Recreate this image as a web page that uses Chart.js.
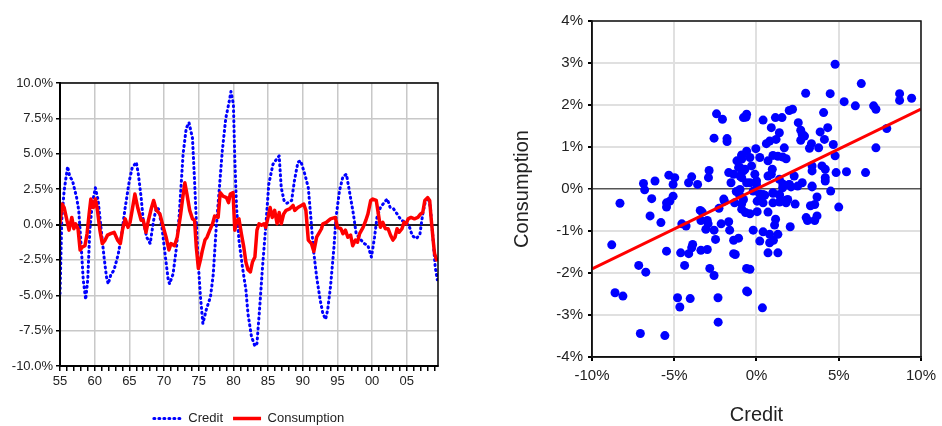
<!DOCTYPE html>
<html>
<head>
<meta charset="utf-8">
<script src="https://cdn.jsdelivr.net/npm/chart.js@4/dist/chart.umd.min.js"></script>
<style>
  html, body { margin: 0; padding: 0; background: #fff; overflow: hidden; width: 942px; height: 426px; }
  #left { position: absolute; left: 0; top: 0; width: 470px; height: 435px; }
  #right { position: absolute; left: 470px; top: 0; width: 472px; height: 426px; }
</style>
</head>
<body>
<div id="left"><canvas id="c1" width="470" height="435"></canvas></div>
<div id="right"><canvas id="c2" width="472" height="426"></canvas></div>
<script>
// ---- Left panel: time series (% deviation) ----
const creditYears = [1955.0,1955.25,1955.6,1956.1,1956.4,1956.8,1957.4,1957.7,1958.0,1958.35,1958.7,1959.0,1959.3,1959.65,1960.1,1960.5,1960.9,1961.35,1961.7,1961.95,1962.3,1962.8,1963.4,1963.9,1964.4,1965.0,1965.4,1966.0,1966.3,1966.7,1967.0,1967.5,1968.0,1968.5,1968.9,1969.2,1969.7,1970.2,1970.6,1970.8,1971.3,1971.8,1972.2,1972.75,1973.2,1973.6,1974.1,1974.4,1974.65,1974.9,1975.25,1975.6,1976.1,1976.7,1977.1,1977.5,1977.95,1978.4,1978.9,1979.4,1979.65,1980.0,1980.2,1980.45,1980.8,1981.3,1981.8,1982.1,1982.6,1983.1,1983.4,1983.8,1984.2,1984.7,1985.1,1985.7,1986.2,1986.6,1986.9,1987.3,1987.7,1988.4,1988.8,1989.3,1989.7,1990.3,1990.8,1991.2,1991.5,1992.0,1992.5,1992.9,1993.3,1993.6,1994.0,1994.5,1994.8,1995.3,1995.8,1996.3,1996.8,1997.3,1997.7,1998.4,1998.9,1999.4,1999.9,2000.35,2000.7,2001.2,2001.8,2002.2,2002.6,2003.1,2003.6,2004.2,2004.9,2005.4,2005.8,2006.4,2006.9,2007.3,2007.7,2008.1,2008.4,2008.8,2009.1,2009.4];
const creditValues = [-4.9,0.3,2.4,4.1,3.4,3.1,1.9,1.0,-1.1,-3.9,-5.3,-3.9,-0.4,1.45,2.6,1.7,-0.2,-2.3,-3.7,-4.2,-3.6,-3.2,-2.1,-0.65,1.2,3.1,4.0,4.4,3.55,1.9,0.3,-0.9,-1.35,0.3,1.2,1.1,-0.2,-2.3,-3.9,-4.2,-3.5,-1.6,0.75,5.0,6.8,7.2,6.1,3.1,0.3,-2.5,-5.1,-7.0,-6.0,-5.1,-3.5,-0.4,2.4,5.2,7.5,8.7,9.4,8.5,4.7,1.2,-1.1,-3.0,-4.6,-6.3,-7.9,-8.6,-8.4,-5.8,-3.0,0.05,2.85,4.25,4.6,4.85,2.6,1.7,1.5,1.7,3.1,4.4,4.5,3.55,2.6,0.3,-1.6,-3.7,-5.3,-6.3,-6.7,-6.0,-4.4,-1.6,0.5,2.4,3.4,3.55,2.15,0.75,-0.65,-1.1,-1.35,-1.5,-2.3,-0.9,0.5,1.2,1.6,1.8,1.2,1.1,0.75,0.3,0.15,-0.2,-0.8,-1.0,-0.65,0.75,1.7,1.9,1.2,-1.1,-3.0,-3.9];

const consYears = [1955.0,1955.3,1955.6,1956.0,1956.3,1956.7,1957.0,1957.25,1957.6,1957.9,1958.2,1958.6,1958.9,1959.2,1959.45,1959.8,1960.1,1960.4,1960.75,1961.1,1961.5,1961.85,1962.3,1962.8,1963.3,1963.7,1964.0,1964.4,1964.8,1965.1,1965.4,1965.8,1966.2,1966.7,1967.0,1967.4,1967.75,1968.2,1968.5,1968.9,1969.4,1969.9,1970.3,1970.7,1971.0,1971.5,1971.9,1972.4,1972.7,1973.0,1973.3,1973.7,1974.1,1974.4,1974.65,1974.95,1975.25,1975.5,1975.9,1976.2,1976.6,1977.0,1977.3,1977.8,1978.1,1978.5,1979.0,1979.3,1979.55,1979.95,1980.2,1980.5,1980.8,1981.15,1981.5,1981.8,1982.1,1982.45,1982.75,1983.1,1983.4,1983.7,1984.05,1984.4,1984.65,1985.0,1985.3,1985.6,1985.95,1986.3,1986.6,1986.9,1987.25,1987.6,1988.1,1988.6,1988.85,1989.3,1989.8,1990.15,1990.45,1990.8,1991.25,1991.6,1992.0,1992.3,1992.7,1992.9,1993.4,1994.0,1994.7,1995.0,1995.5,1995.8,1996.15,1996.5,1996.9,1997.2,1997.6,1997.9,1998.2,1998.7,1999.1,1999.4,1999.8,2000.1,2000.6,2000.9,2001.2,2001.55,2001.9,2002.3,2002.65,2003.0,2003.3,2003.6,2003.9,2004.3,2004.6,2004.9,2005.2,2005.6,2006.1,2006.6,2007.0,2007.3,2007.6,2008.0,2008.3,2008.5,2008.8,2009.0,2009.3];
const consValues = [0.1,1.45,1.2,0.3,-0.4,0.5,-0.3,0.05,-0.3,-1.8,-1.6,-1.5,-0.65,0.75,1.8,1.2,1.8,1.0,-0.4,-1.35,-1.1,-0.75,-0.65,-0.55,-1.1,-1.35,-0.4,0.4,-0.2,0.15,1.0,2.15,1.2,0.3,0.3,-0.55,0.3,1.2,1.7,1.0,0.75,-0.2,-0.9,-1.8,-1.35,-1.5,-0.9,0.75,1.9,2.95,2.15,1.0,0.4,0.3,-1.6,-3.1,-2.5,-1.9,-1.1,-0.9,-0.4,0.05,0.6,0.5,2.25,2.0,1.9,1.55,2.15,2.25,-0.4,0.3,0.4,-0.65,-1.6,-2.65,-3.2,-3.35,-2.65,-2.3,-0.4,0.05,-0.05,0.05,-0.2,0.5,1.2,0.5,1.0,0.05,0.85,0.05,0.75,1.0,1.1,1.35,1.0,1.2,1.35,1.45,1.0,-1.1,-1.35,-1.9,-0.9,-0.65,-0.3,0.05,0.15,0.4,0.5,-0.2,-0.3,-0.65,-0.4,-0.9,-0.75,-1.5,-1.1,-1.25,-0.65,-0.2,0.3,0.75,1.7,1.8,1.7,0.75,-0.2,0.15,-0.3,-0.3,-0.75,-1.1,-0.9,-0.3,-0.55,-0.3,0.15,0.05,0.4,0.5,0.4,0.5,0.75,0.85,1.7,1.9,1.7,0.5,-1.1,-2.05,-2.5];

const leftYTicks = [-10, -7.5, -5, -2.5, 0, 2.5, 5, 7.5, 10];
const leftXTickYears = [1955,1960,1965,1970,1975,1980,1985,1990,1995,2000,2005];

// ---- Right panel: scatter (credit %, consumption %) ----
const scatterCredit = [-2.43,-2.07,-2.58,-1.79,-1.79,-0.79,-0.64,-0.6,-6.87,-6.8,-6.17,-5.33,-4.97,-5.07,-4.13,-3.94,-3.58,-2.88,-2.92,-1.69,-1.55,-1.19,-1.09,-0.9,-1.0,-0.7,-0.6,-1.23,-8.3,-6.37,-5.07,-1.99,-5.27,-5.47,-5.47,-6.47,-5.81,-8.8,-7.16,-6.73,-5.47,-4.54,-4.28,-4.61,-4.12,-3.88,-3.94,-4.37,-3.42,-3.3,-3.38,-2.99,-2.94,-3.08,-2.58,-3.38,-2.99,-2.49,-2.84,-2.58,-2.28,-2.15,-1.95,-1.69,-1.63,-1.39,-1.09,-1.39,-1.29,-1.03,-1.33,-0.9,-0.9,-0.67,-0.6,-0.6,-8.6,-8.12,-4.8,-4.66,-4.03,-2.34,-2.33,-7.06,-5.57,-0.4,-0.54,0.36,-0.2,0.2,0.4,0.7,1.3,0.8,1.03,1.3,0.8,1.1,1.16,2.05,0.7,-0.4,0.04,0.04,0.4,1.0,1.4,1.8,2.35,3.02,3.1,3.54,3.68,3.28,3.54,3.68,5.0,4.51,3.38,4.18,1.6,2.0,2.5,2.1,0.2,-0.2,0.5,1.0,1.4,0.3,1.9,4.78,6.37,2.99,4.48,5.33,6.01,7.12,7.26,8.7,8.7,9.43,7.92,7.26,4.08,4.33,3.87,4.13,4.67,4.78,3.78,3.34,3.22,2.54,2.69,2.78,2.92,2.69,1.99,2.19,1.15,1.55,0.4,0.9,1.39,-0.04,0.6,0.8,1.19,1.69,1.0,1.3,1.6,1.8,0.7,3.38,3.38,3.98,4.18,4.18,3.38,4.84,5.47,6.63,2.78,2.29,1.99,1.59,1.39,0.9,0.7,0.96,-0.4,-0.9,-1.0,-0.79,-0.3,-0.1,0.0,-0.4,-0.9,0.2,-0.6,-1.39,-0.9,0.0,0.4,1.0,1.39,1.79,-0.79,-1.0];
const scatterConsumption = [1.79,1.66,1.21,1.2,1.13,1.70,1.71,1.78,0.13,-0.02,0.19,0.33,0.27,0.11,0.15,0.29,0.11,0.44,0.27,0.39,0.15,0.67,0.51,0.81,0.31,0.47,0.15,-0.06,-0.34,-0.23,-0.17,-0.24,-0.29,-0.33,-0.43,-0.64,-0.8,-1.33,-1.82,-1.98,-1.48,-0.83,-0.88,-1.52,-1.54,-1.32,-1.4,-1.82,-0.51,-0.55,-0.75,-0.75,-0.83,-0.96,-0.98,-1.46,-1.44,-1.2,-1.89,-2.06,-0.46,-0.83,-0.29,-0.78,-0.98,-1.22,-1.17,-1.54,-1.56,-0.14,-0.33,-0.35,-0.48,-0.56,-1.89,-2.43,-2.47,-2.55,-2.59,-2.81,-2.61,-2.59,-3.17,-3.44,-3.49,-1.91,-2.45,-2.83,-0.98,-1.24,-1.02,-1.52,-1.52,-1.28,-1.22,-1.08,-1.08,-0.86,-0.72,-0.9,-0.55,-0.59,-0.54,-0.29,-0.33,-0.33,-0.31,-0.33,-0.36,-0.68,-0.75,-0.75,-0.64,-0.4,-0.37,-0.19,-0.43,-0.05,0.05,0.19,0.12,0.1,0.07,0.05,-0.12,-0.05,-0.15,-0.1,-0.15,-0.2,-0.25,2.97,2.51,2.28,2.27,2.08,1.98,1.98,1.9,2.27,2.11,2.16,1.44,0.98,1.82,1.46,1.36,1.18,1.06,0.79,0.98,1.08,0.97,1.58,1.4,1.30,1.26,1.16,1.87,1.9,1.7,1.7,1.64,1.46,1.34,0.96,1.08,1.14,1.18,0.98,0.8,0.78,0.76,0.72,0.67,0.55,0.43,0.55,0.47,0.27,0.07,0.39,0.41,0.39,0.15,0.31,0.11,0.03,0.23,0.35,0.31,0.47,0.75,0.79,0.51,0.43,0.55,0.35,0.19,0.15,0.27,0.75,0.9,0.35,0.71,0.11,-0.13,-0.09,-0.13,-0.27,-0.25,-0.01];

const fitCredit = [-10, 10];
const fitConsumption = [-1.9, 1.9];

const rightXTicks = [-10, -5, 0, 5, 10];
const rightYTicks = [-4, -3, -2, -1, 0, 1, 2, 3, 4];

// ---- shared styling ----
const FONT = "'Liberation Sans', Arial, Helvetica, sans-serif";
const TEXT = '#222';

const framePlugin = {
  id: 'frame',
  afterDatasetsDraw(chart, args, opts) {
    const a = chart.chartArea, ctx = chart.ctx;
    ctx.save();
    ctx.strokeStyle = opts.color || '#000';
    ctx.lineWidth = opts.width || 1.5;
    ctx.strokeRect(a.left, a.top, a.right - a.left, a.bottom - a.top);
    ctx.restore();
  }
};

const zip = (xs, ys) => xs.map((x, i) => ({ x: x, y: ys[i] }));

new Chart(document.getElementById('c1'), {
  type: 'line',
  data: {
    datasets: [
      {
        label: 'Credit',
        data: zip(creditYears, creditValues),
        borderColor: '#0000ff',
        backgroundColor: '#0000ff',
        borderWidth: 3,
        borderDash: [1, 4],
        borderCapStyle: 'round',
        borderJoinStyle: 'round',
        pointRadius: 0,
        tension: 0,
        order: 1
      },
      {
        label: 'Consumption',
        data: zip(consYears, consValues),
        borderColor: '#ff0000',
        backgroundColor: '#ff0000',
        borderWidth: 3.5,
        borderCapStyle: 'round',
        borderJoinStyle: 'round',
        pointRadius: 0,
        tension: 0,
        order: 0
      }
    ]
  },
  options: {
    responsive: false,
    animation: false,
    devicePixelRatio: 1,
    layout: { padding: { top: 83, right: 32, left: 0, bottom: 0 } },
    plugins: {
      legend: {
        position: 'bottom',
        fullSize: false,
        labels: {
          usePointStyle: true,
          pointStyle: 'line',
          pointStyleWidth: 28,
          font: { size: 13, family: FONT },
          color: TEXT,
          padding: 10,
          sort: (a, b) => a.datasetIndex - b.datasetIndex,
          generateLabels: (chart) => {
            const items = Chart.defaults.plugins.legend.labels.generateLabels(chart);
            return items.map((it) => {
              const ds = chart.data.datasets[it.datasetIndex];
              it.strokeStyle = ds.borderColor;
              it.fillStyle = ds.borderColor;
              it.lineWidth = ds.borderWidth;
              it.lineDash = ds.borderDash || [];
              it.lineCap = ds.borderDash ? 'round' : 'butt';
              it.pointStyle = 'line';
              return it;
            });
          }
        }
      },
      tooltip: { enabled: false },
      frame: { color: '#000', width: 1.5 }
    },
    scales: {
      x: {
        type: 'linear',
        min: 1955,
        max: 2009.5,
        afterFit: (s) => { s.height = 36; },
        afterBuildTicks: (s) => {
          const t = [];
          for (let y = 1955; y <= 2009; y++) t.push({ value: y });
          s.ticks = t;
        },
        ticks: {
          autoSkip: false,
          maxRotation: 0,
          padding: 3,
          color: TEXT,
          font: { size: 13, family: FONT },
          callback: (v) => leftXTickYears.includes(v) ? String(v % 100).padStart(2, '0') : ''
        },
        grid: {
          color: (c) => (c.tick && leftXTickYears.includes(c.tick.value)) ? '#c8c8c8' : 'rgba(0,0,0,0)',
          lineWidth: 1.5,
          drawTicks: true,
          tickLength: 5,
          tickColor: '#000',
          tickWidth: 1.5
        },
        border: { display: true, color: '#000', width: 2 }
      },
      y: {
        min: -10,
        max: 10,
        afterFit: (s) => { s.width = 60; },
        afterBuildTicks: (s) => { s.ticks = leftYTicks.map(v => ({ value: v })); },
        ticks: {
          padding: 3,
          color: TEXT,
          font: { size: 13, family: FONT },
          callback: (v) => v.toFixed(1) + '%'
        },
        grid: {
          color: (c) => (c.tick && c.tick.value === 0) ? '#222' : '#c8c8c8',
          lineWidth: (c) => (c.tick && c.tick.value === 0) ? 2 : 1.5,
          drawTicks: true,
          tickLength: 4,
          tickColor: '#000'
        },
        border: { display: true, color: '#000', width: 2 }
      }
    }
  },
  plugins: [framePlugin]
});

new Chart(document.getElementById('c2'), {
  type: 'scatter',
  data: {
    datasets: [
      {
        type: 'line',
        label: 'Fit',
        data: zip(fitCredit, fitConsumption),
        borderColor: '#ff0000',
        borderWidth: 3,
        pointRadius: 0,
        showLine: true,
        fill: false
      },
      {
        label: 'Credit vs Consumption',
        data: zip(scatterCredit, scatterConsumption),
        backgroundColor: '#0000ff',
        borderColor: '#0000ff',
        borderWidth: 0,
        pointRadius: 4.5
      }
    ]
  },
  options: {
    responsive: false,
    animation: false,
    devicePixelRatio: 1,
    layout: { padding: { top: 21, right: 15, left: 36, bottom: 0 } },
    plugins: {
      legend: { display: false },
      tooltip: { enabled: false },
      frame: { color: '#111', width: 1.5 }
    },
    scales: {
      x: {
        type: 'linear',
        min: -10,
        max: 10,
        afterFit: (s) => { s.height = 69; },
        afterBuildTicks: (s) => { s.ticks = rightXTicks.map(v => ({ value: v })); },
        title: {
          display: true,
          text: 'Credit',
          color: TEXT,
          font: { size: 20, family: FONT, lineHeight: 1 },
          padding: { top: 0, bottom: 1 }
        },
        ticks: {
          padding: 6,
          color: TEXT,
          font: { size: 15, family: FONT },
          callback: (v) => v + '%'
        },
        grid: {
          color: '#e0e0e0',
          lineWidth: 2,
          drawTicks: true,
          tickLength: 4,
          tickColor: '#000'
        },
        border: { display: true, color: '#111', width: 1.5 }
      },
      y: {
        min: -4,
        max: 4,
        afterFit: (s) => { s.width = 86; },
        afterBuildTicks: (s) => { s.ticks = rightYTicks.map(v => ({ value: v })); },
        title: {
          display: true,
          text: 'Consumption',
          color: TEXT,
          font: { size: 20, family: FONT, lineHeight: 1.2 },
          padding: { top: 4, bottom: 4 }
        },
        ticks: {
          padding: 5,
          color: TEXT,
          font: { size: 15, family: FONT },
          callback: (v) => v + '%'
        },
        grid: {
          color: (c) => (c.tick && c.tick.value === 0) ? '#555' : '#e0e0e0',
          lineWidth: (c) => (c.tick && c.tick.value === 0) ? 1.5 : 2,
          drawTicks: true,
          tickLength: 4,
          tickColor: '#000'
        },
        border: { display: true, color: '#111', width: 1.5 }
      }
    }
  },
  plugins: [framePlugin]
});
</script>
</body>
</html>
